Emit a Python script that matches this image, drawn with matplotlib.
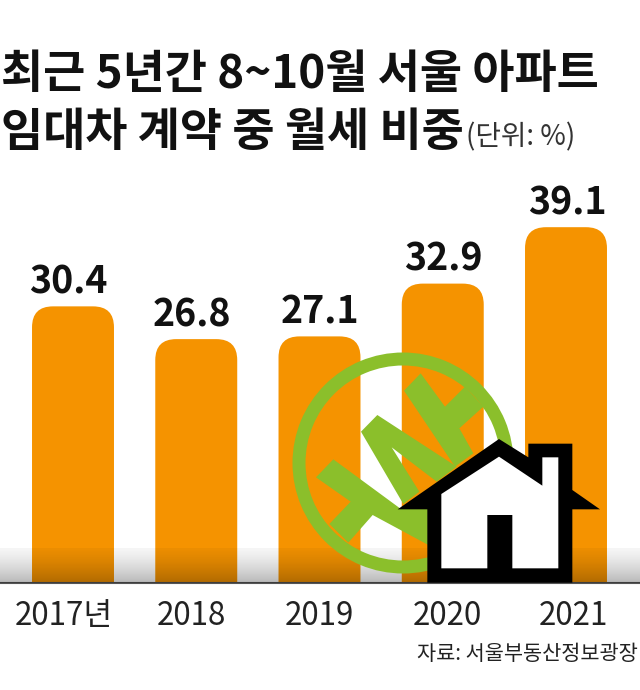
import numpy as np
import matplotlib
matplotlib.use('Agg')
import matplotlib.pyplot as plt
from matplotlib.patches import FancyBboxPatch, Polygon, Wedge

plt.rcParams['font.family'] = ['Noto Sans CJK KR', 'DejaVu Sans']

years = ['2017년', '2018', '2019', '2020', '2021']
shares = [30.4, 26.8, 27.1, 32.9, 39.1]

ORANGE = '#F59300'
GREEN = '#8BBF2B'
W, H = 640, 690
BASE_Y = 583      # pixel row of the baseline
PX_PER_UNIT = 9.1
STEP = 123.25     # pixels between bars
FIRST_X = 73

# the labels are not centred exactly on the bars in the original
value_shift = [-5, -4, 0, 1, 1]
tick_shift = [-9, -5, 0, 5, 7]

fig = plt.figure(figsize=(W / 100, H / 100), dpi=100, facecolor='white')

# bar chart
ax = fig.add_axes([0, (H - BASE_Y) / H, 1, (BASE_Y - 180) / H])
x = np.arange(len(years))
ax.set_xlim(-FIRST_X / STEP, (W - FIRST_X) / STEP)
ax.set_ylim(0, (BASE_Y - 180) / PX_PER_UNIT)

bars = ax.bar(x, shares, width=0.665, color='none')
aspect = STEP / PX_PER_UNIT
for bar, val, shift in zip(bars, shares, value_shift):
    # rounded top, the bottom corners go under the axis and get clipped
    ax.add_patch(FancyBboxPatch((bar.get_x(), -4), bar.get_width(), val + 4,
                                boxstyle='round,pad=0,rounding_size=0.17',
                                mutation_aspect=aspect, fc=ORANGE, ec='none'))
    ax.annotate(f'{val}', (bar.get_x() + bar.get_width() / 2, val), xytext=(shift * 0.72, 3.5),
                textcoords='offset points', ha='center', va='bottom',
                fontsize=27, fontweight='bold', color='#111111')

for s in ['top', 'left', 'right']:
    ax.spines[s].set_visible(False)
ax.spines['bottom'].set_color('#555555')
ax.spines['bottom'].set_linewidth(1.5)
ax.set_yticks([])
ax.set_xticks(x + np.array(tick_shift) / STEP)
ax.set_xticklabels(years, fontsize=22.5, color='#222222')
ax.tick_params(axis='x', length=0, pad=12)
ax.patch.set_alpha(0)

# overlay in pixel coordinates: logo, house, shading
ov = fig.add_axes([0, 0, 1, 1], facecolor='none')
ov.set_xlim(0, W)
ov.set_ylim(H, 0)
ov.axis('off')


def crop(pts, x0, y0):
    return [(x0 + px / 3, y0 + py / 3) for px, py in pts]


ov.add_patch(Wedge((403, 463), 110.5, 0, 360, width=13, fc=GREEN, ec='none'))
logo_shapes = [
    [(48, 352), (100, 298), (300, 445), (385, 445), (385, 555), (218, 465), (145, 548), (88, 492), (152, 425)],
    [(183, 215), (232, 165), (470, 320), (410, 365), (275, 262), (358, 395), (310, 432)],
    [(312, 92), (362, 40), (435, 140), (495, 80), (550, 140), (478, 205), (520, 280), (465, 320)],
]
for pts in logo_shapes:
    ov.add_patch(Polygon(crop(pts, 300, 360), closed=True, fc=GREEN, ec='none'))

house_outer = [(687, 297), (775, 352), (775, 311), (907, 311), (907, 450), (990, 508), (907, 508),
               (907, 728), (472, 728), (472, 508), (383, 508)]
house_inner = [(514, 685), (514, 462), (687, 350), (817, 437), (817, 352), (865, 352), (865, 685),
               (727, 685), (727, 525), (652, 525), (652, 685)]
ov.add_patch(Polygon(crop(house_outer, 270, 340), closed=True, fc='black', ec='none'))
ov.add_patch(Polygon(crop(house_inner, 270, 340), closed=True, fc='white', ec='none'))

# shadow band above the baseline
shade = np.zeros((64, 2, 4))
shade[..., 3] = (0.04 + 0.24 * np.linspace(0, 1, 64) ** 1.3)[:, None]
ov.imshow(shade, extent=(0, W, BASE_Y, 548), aspect='auto', interpolation='bilinear')
ov.set_xlim(0, W)
ov.set_ylim(H, 0)

# titles
ov.text(1, 75, '최근 5년간 8~10월 서울 아파트', fontsize=33, fontweight='bold',
        va='center', ha='left', color='#111111')
ov.text(1, 133, '임대차 계약 중 월세 비중', fontsize=33, fontweight='bold',
        va='center', ha='left', color='#111111')
ov.text(466, 137, '(단위: %)', fontsize=20, fontweight='light', va='center', ha='left', color='#333333')
ov.text(638, 654, '자료: 서울부동산정보광장', fontsize=15, va='center', ha='right', color='#222222')

fig.savefig('out.png', dpi=100)
